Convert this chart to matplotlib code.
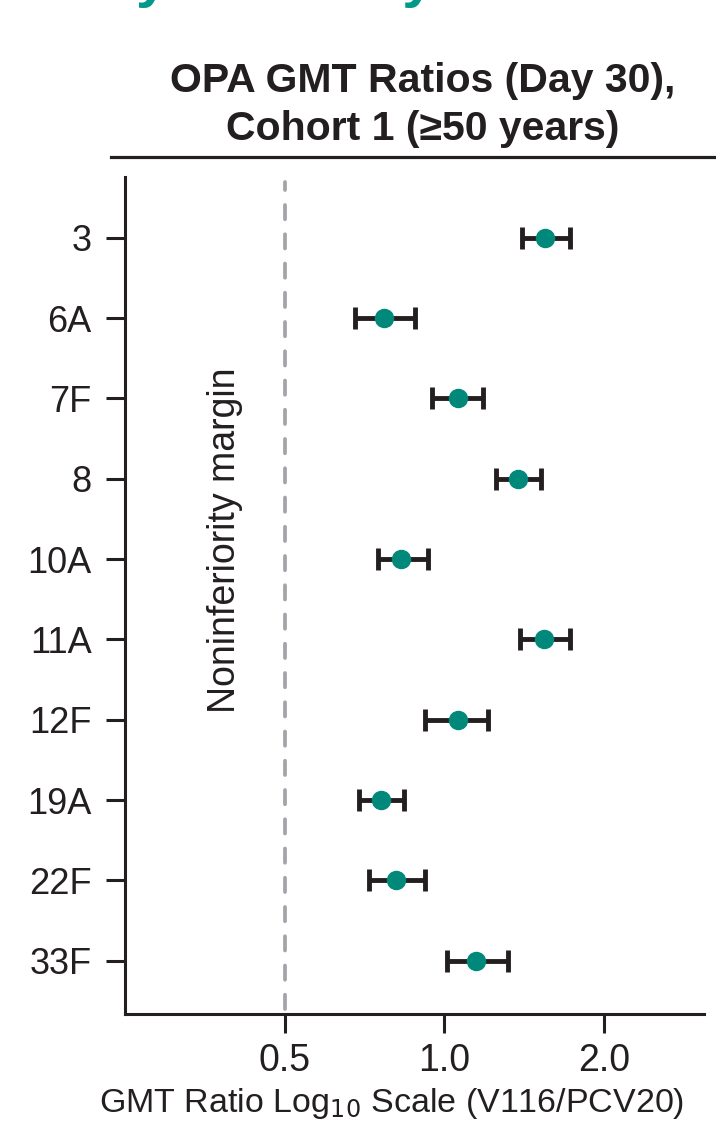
import matplotlib
matplotlib.use("Agg")
import matplotlib.pyplot as plt
from matplotlib.lines import Line2D
import numpy as np

plt.rcParams['font.family'] = ['Liberation Sans', 'DejaVu Sans']

#%% data
serotypes = ['3', '6A', '7F', '8', '10A', '11A', '12F', '19A', '22F', '33F']
gmt_ratio = [1.55, 0.77, 1.06, 1.38, 0.83, 1.54, 1.06, 0.76, 0.81, 1.15]
ci_low = [1.40, 0.68, 0.95, 1.25, 0.75, 1.39, 0.92, 0.69, 0.72, 1.01]
ci_high = [1.73, 0.88, 1.185, 1.52, 0.93, 1.73, 1.21, 0.84, 0.92, 1.32]
xticks = [0.5, 1.0, 2.0]
xticklabels = ['0.5', '1.0', '2.0']
margin = 0.5

dark = '#231f20'
teal = '#00897b'

#%% plot
W, H = 716, 1129
fig = plt.figure(figsize=(W / 100, H / 100), dpi=100)
ax = fig.add_axes([125 / W, 1 - 1014 / H, (704 - 125) / W, (1014 - 177) / H])

y = np.arange(len(serotypes))
g = np.array(gmt_ratio)
err = [g - np.array(ci_low), np.array(ci_high) - g]

ax.axvline(margin, color='#a2a4a7', lw=2.7, dashes=(3.8, 4.0),
           dash_capstyle='round', ymin=0.006, ymax=0.994)
ax.errorbar(g, y, xerr=err, fmt='o', color=teal, ms=13,
            ecolor=dark, elinewidth=3.5, capsize=8, capthick=3.5, zorder=3)

ax.set_xscale('log')
ax.set_xlim(0.25, 3.09)
ax.set_ylim(len(serotypes) - 1 + 0.664, -0.756)
ax.set_xticks(xticks)
ax.set_xticklabels(xticklabels)
ax.minorticks_off()
ax.set_yticks(y)
ax.set_yticklabels(serotypes)

for s in ['top', 'right']:
    ax.spines[s].set_visible(False)
for s in ['left', 'bottom']:
    ax.spines[s].set_color(dark)
    ax.spines[s].set_linewidth(2.2)
ax.tick_params(axis='both', colors=dark, width=2.2, length=14, labelcolor=dark)
ax.tick_params(axis='y', pad=10, labelsize=26)
ax.tick_params(axis='x', pad=7, labelsize=27)

ax.set_xlabel('GMT Ratio Log$_{10}$ Scale (V116/PCV20)', fontsize=24.5,
              color=dark)
ax.xaxis.set_label_coords(0.46, -0.086, transform=ax.transAxes)

ax.text(225 / W, 1 - 540 / H, 'Noninferiority margin', transform=fig.transFigure,
        rotation=90, ha='center', va='center', fontsize=27, color=dark)

# title and rule
fig.text(423 / W, 1 - 105 / H, 'OPA GMT Ratios (Day 30),\nCohort 1 (\u226550 years)',
         ha='center', va='center', fontsize=29.5, fontweight='bold', color=dark,
         linespacing=1.3)
fig.add_artist(Line2D([111 / W, 1.0], [1 - 157 / H, 1 - 157 / H],
                      transform=fig.transFigure, color=dark, lw=2.3))

# cropped slide heading at the very top
fig.text(19 / W, 1 + 4 / H, 'analysis at day 30', ha='left', va='baseline',
         fontsize=42, fontweight='bold', color='#00998a')

fig.savefig('out.png', dpi=100)
